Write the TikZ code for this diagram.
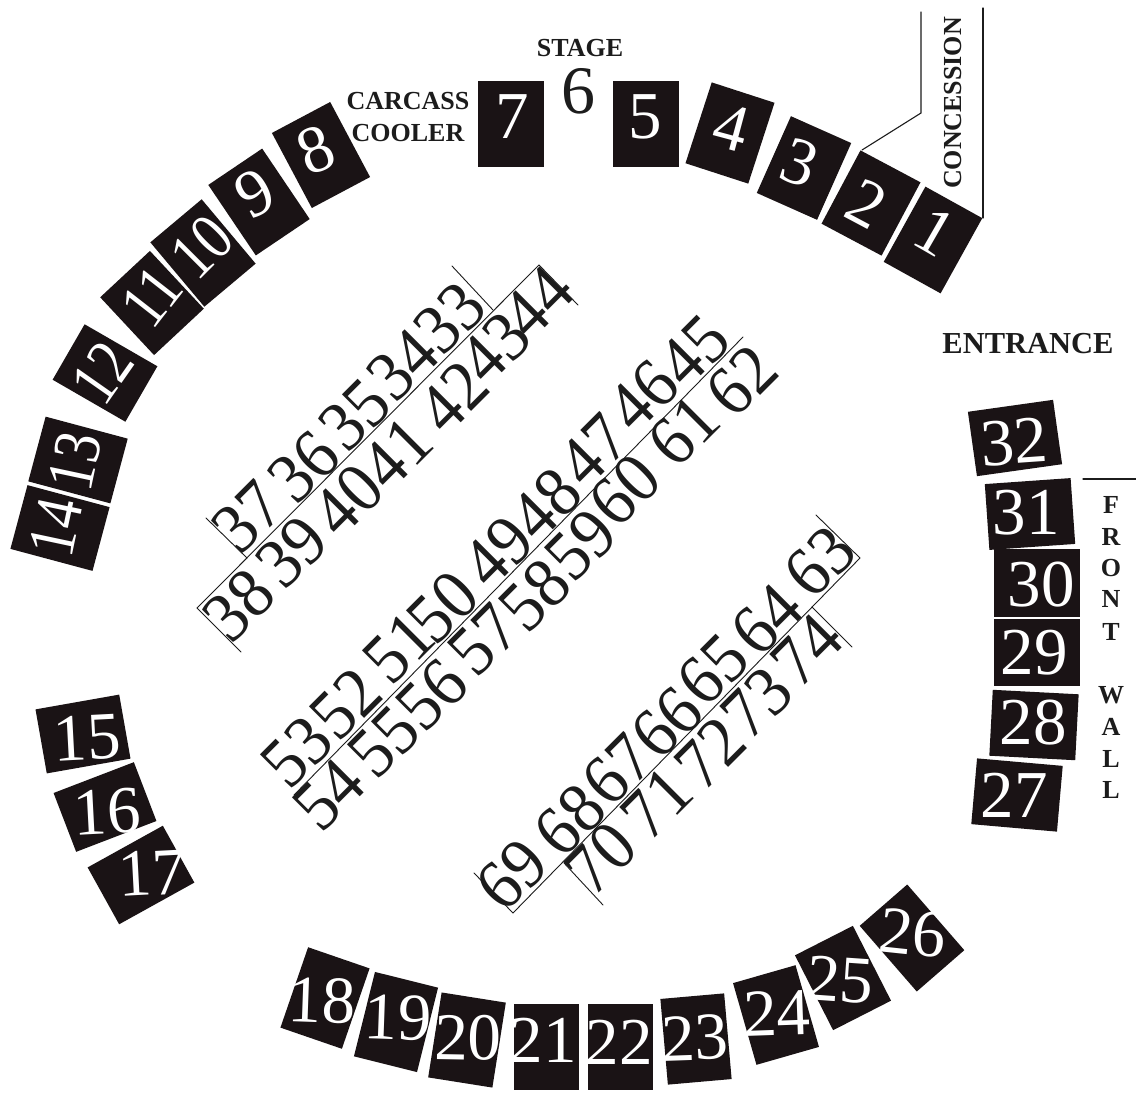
\documentclass[tikz,border=0pt]{standalone}
\usepackage{fontspec}
\setmainfont{Liberation Serif}
\newfontfamily\narrowserif[FakeStretch=0.84]{Liberation Serif}
\newfontfamily\penserif[FakeStretch=0.94]{Liberation Serif}
\definecolor{stallblack}{HTML}{1A1315}
\definecolor{inkdark}{HTML}{1C1C1C}
\tikzset{
  stallbox/.style={fill=stallblack,draw=none,rectangle,inner sep=0pt,outer sep=0pt},
  stalltext/.style={text=white,inner sep=0pt,font=\fontsize{67}{67}\selectfont},
  penlabel/.style={text=inkdark,inner sep=0pt,rotate=45,font=\fontsize{71}{71}\penserif},
  caps/.style={text=inkdark,inner sep=0pt,font=\fontsize{#1}{#1}\selectfont\bfseries},
  rail/.style={draw=inkdark,line width=1.1pt,line cap=round,line join=miter},
  thinrail/.style={draw=inkdark,line width=0.9pt,line cap=round,line join=miter}
}
\newcommand{\stall}[8]{%
  \node[stallbox,minimum width=#3pt,minimum height=#4pt,rotate=#5] (s#1) at (#2) {};
  \node[stalltext,rotate=#8] (t#1) at (#7) {#6};
}
\newcommand{\pen}[3]{\node[penlabel] (p#1) at (#2,#3) {#1};}
\begin{document}
\begin{tikzpicture}[x=1pt,y=-1pt]
\useasboundingbox (0,0) rectangle (1136,1109);
\fill[white] (0,0) rectangle (1136,1109);

% top arc
\stall{1}{933,240}{65}{86}{-29}{1}{935,232}{-30}
\stall{2}{871,203}{68}{83}{-28}{2}{867,204}{-28}
\stall{3}{804,168}{66}{84}{-24}{3}{800,163}{-20}
\stall{4}{730,133}{66}{85}{-18}{4}{731,128}{-15}
\stall{5}{646,124}{66}{86}{0}{5}{645,117}{0}
\stall{7}{511,124}{66}{86}{0}{7}{512,117}{0}
\stall{8}{321,155}{66}{85}{28}{8}{316,150}{22}
\stall{9}{259,202}{65}{85}{34}{9}{255,193}{28}
\stall{10}{203,253}{67}{84}{40}{\narrowserif 10}{202,247}{45}
\stall{11}{152,303}{68}{79}{43}{\narrowserif 11}{152,297}{52}
\stall{12}{105,373}{64}{84}{60}{\narrowserif 12}{102,373}{55}
\stall{13}{78,460}{67}{85}{75}{\narrowserif 13}{75,461}{78}
\stall{14}{60,528}{66}{85}{75}{\narrowserif 14}{56,527}{78}
% left
\stall{15}{83,734}{85}{65}{10}{15}{87,738}{3}
\stall{16}{105,807}{86}{63}{21}{16}{107,812}{3}
\stall{17}{141,875}{86}{65}{29}{17}{152,873}{3}
% bottom arc
\stall{18}{325,998}{65}{85}{-19}{18}{322,1001}{-2}
\stall{19}{396,1022}{65}{87}{-14}{19}{398,1018}{-2}
\stall{20}{467,1040}{65}{86}{-9}{20}{468,1038}{-1}
\stall{21}{546.5,1047}{65}{86}{0}{21}{543,1040}{0}
\stall{22}{620,1047}{65}{86}{0}{22}{619,1042}{0}
\stall{23}{696,1039}{64}{86}{5}{23}{695,1038}{2}
\stall{24}{776,1015}{65}{85}{16}{24}{777,1013}{2}
\stall{25}{843,978}{65}{84}{27}{25}{840,980}{-4}
\stall{26}{912,938}{63}{87}{41}{26}{913,933}{-6}
% right
\stall{27}{1017,795}{86}{66}{-5}{27}{1014,795}{0}
\stall{28}{1034,725}{86}{66}{-3}{28}{1033,723}{0}
\stall{29}{1037,652}{86}{67}{0}{29}{1034,653}{0}
\stall{30}{1037,583}{86}{68}{0}{30}{1041,585}{0}
\stall{31}{1030,514}{86}{66}{4}{31}{1026,513}{0}
\stall{32}{1015,438}{86}{65}{8}{32}{1014,442}{4}

% labels
\node[text=inkdark,inner sep=0pt,font=\fontsize{68}{68}\selectfont] (six) at (578,91) {6};
\node[caps=26] (stage) at (580,48) {STAGE};
\node[caps=26] (carcass) at (408,101) {CARCASS};
\node[caps=26] (cooler) at (408,133) {COOLER};
\node[caps=26,rotate=90] (concession) at (953,103) {CONCESSION};
\node[caps=30.5] (entrance) at (1028,344) {ENTRANCE};
\foreach \l/\y [count=\i] in {F/505,R/537,O/568,N/599,T/632,W/695,A/727,L/759,L/790}
  \node[caps=26] (w\i) at (1111,\y) {\l};

% concession and wall lines
\coordinate (ca) at (921,12);
\coordinate (cb) at (921,113);
\coordinate (cc) at (862,150);
\coordinate (cd) at (983,8);
\coordinate (ce) at (983,218);
\draw[rail] (ca) -- (cb) -- (cc);
\draw[rail] (cd) -- (ce);
\coordinate (fa) at (1083,479);
\coordinate (fb) at (1136,479);
\draw[rail] (fa) -- (fb);

% pen block 1
\coordinate (a1) at (452,266);
\coordinate (a2) at (493,310);
\coordinate (a3) at (247,558);
\coordinate (a4) at (206,518);
\draw[thinrail] (a1) -- (a2);
\draw[thinrail] (a3) -- (a4);
\coordinate (b1) at (578,305);
\coordinate (b2) at (539,265);
\coordinate (b3) at (197,608);
\coordinate (b4) at (241,652);
\draw[thinrail] (b1) -- (b2) -- (b3) -- (b4);
% pen block 2
\coordinate (m1) at (743,337);
\coordinate (m2) at (294,795);
\draw[thinrail] (m1) -- (m2);
% pen block 3
\coordinate (d1) at (816,515);
\coordinate (d2) at (860,558);
\coordinate (d3) at (513,913);
\coordinate (d4) at (474,873);
\draw[thinrail] (d1) -- (d2) -- (d3) -- (d4);
\coordinate (e1) at (564,863);
\coordinate (e2) at (603,905);
\coordinate (e3) at (812,607);
\coordinate (e4) at (852,647);
\draw[thinrail] (e1) -- (e2);
\draw[thinrail] (e3) -- (e4);

\pen{37}{248}{517}\pen{36}{304}{467}\pen{35}{355}{415}\pen{34}{403}{365}\pen{33}{450}{318}
\pen{38}{239}{605}\pen{39}{292}{552}\pen{40}{348}{500}\pen{41}{397}{453}\pen{42}{453}{397}\pen{43}{495}{348}\pen{44}{538}{302}
\pen{53}{297}{752}\pen{52}{346}{704}\pen{51}{399}{648}\pen{50}{443}{607}\pen{49}{498}{552}\pen{48}{546}{504}\pen{47}{594}{450}\pen{46}{643}{396}\pen{45}{694}{351}
\pen{54}{329}{795}\pen{55}{384}{742}\pen{56}{432}{695}\pen{57}{484}{640}\pen{58}{535}{595}\pen{59}{581}{545}\pen{60}{625}{490}\pen{61}{684}{431}\pen{62}{742}{381}
\pen{69}{512}{875}\pen{68}{570}{820}\pen{67}{618}{770}\pen{66}{667}{723}\pen{65}{713}{670}\pen{64}{767}{620}\pen{63}{820}{562}
\pen{70}{601}{858}\pen{71}{657}{803}\pen{72}{710}{753}\pen{73}{757}{703}\pen{74}{807}{650}
\end{tikzpicture}
\end{document}
